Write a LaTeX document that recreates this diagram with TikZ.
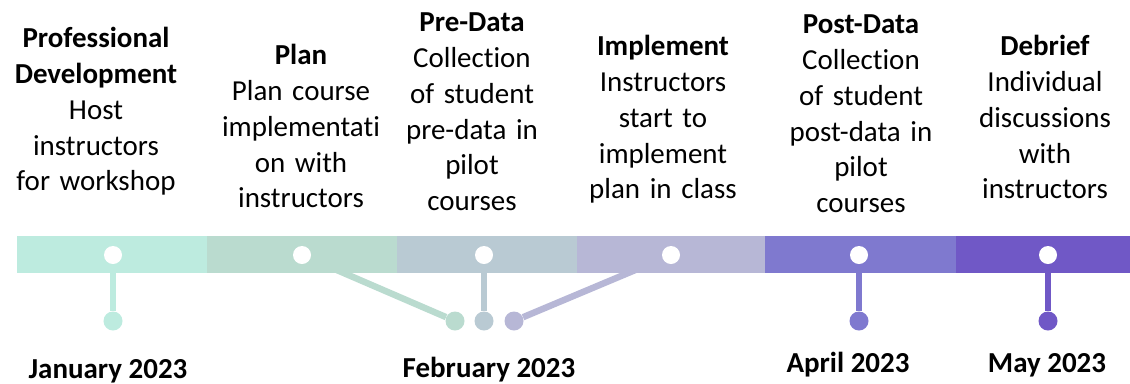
\documentclass[tikz,border=0pt]{standalone}
\usepackage{fontspec}
\setmainfont{Carlito}[Ligatures=NoCommon]
\usetikzlibrary{positioning}
\usetikzlibrary{backgrounds}

\definecolor{segA}{HTML}{BDEBDF}
\definecolor{segB}{HTML}{BADBCF}
\definecolor{segC}{HTML}{B9CAD3}
\definecolor{segD}{HTML}{B7B7D6}
\definecolor{segE}{HTML}{7F79CF}
\definecolor{segF}{HTML}{7058C6}

\begin{document}
\begin{tikzpicture}[x=0.025cm,y=-0.025cm,
	segment/.style={rectangle,inner sep=0pt,minimum height=0.925cm,anchor=west},
	dot/.style={circle,fill=white,inner sep=0pt,minimum size=0.45cm},
	pin/.style={circle,inner sep=0pt,minimum size=0.475cm},
	stem/.style={line width=4.6pt},
	phase/.style={text width=4.5cm,align=center,anchor=base,inner sep=0pt,font=\fontsize{20.6}{25.6}\selectfont},
	month/.style={anchor=base,inner sep=0pt,font=\fontsize{20.6}{25.6}\selectfont\bfseries}]

		\useasboundingbox (0,0) rectangle (1130,383);

		% the bar
		\node (segA) [segment,fill=segA,minimum width=4.75cm] at (17,254.5) {};
		\node (segB) [segment,fill=segB,minimum width=4.75cm,right=-0.4pt of segA] {};
		\node (segC) [segment,fill=segC,minimum width=4.5cm,right=-0.4pt of segB] {};
		\node (segD) [segment,fill=segD,minimum width=4.7cm,right=-0.4pt of segC] {};
		\node (segE) [segment,fill=segE,minimum width=4.75cm,right=-0.4pt of segD] {};
		\node (segF) [segment,fill=segF,minimum width=4.5cm,right=-0.4pt of segE] {};

		% dots on the bar
		\node (dotA) [dot] at (113,255) {};
		\node (dotB) [dot] at (302,255) {};
		\node (dotC) [dot] at (484,255) {};
		\node (dotD) [dot] at (671,255) {};
		\node (dotE) [dot] at (859,255) {};
		\node (dotF) [dot] at (1048,255) {};

		% pins below the bar
		\node (pinA) [pin,fill=segA] at (113,321) {};
		\node (pinB) [pin,fill=segB] at (455,321) {};
		\node (pinC) [pin,fill=segC] at (484,321) {};
		\node (pinD) [pin,fill=segD] at (514,321) {};
		\node (pinE) [pin,fill=segE] at (859,321) {};
		\node (pinF) [pin,fill=segF] at (1048,321) {};

		\begin{pgfonlayer}{background}
		\draw [stem,segA] (dotA.center) -- (pinA);
		\draw [stem,segB] (dotB.center) -- (pinB);
		\draw [stem,segC] (dotC.center) -- (pinC);
		\draw [stem,segD] (dotD.center) -- (pinD);
		\draw [stem,segE] (dotE.center) -- (pinE);
		\draw [stem,segF] (dotF.center) -- (pinF);
		\end{pgfonlayer}

		% phases
		\node (profdev) [phase] at (96,47) {\textbf{Professional}\\\textbf{Development}\\Host\\instructors\\for workshop};
		\node (plan) [phase] at (301,64) {\textbf{Plan}\\Plan course\\implementati\\on with\\instructors};
		\node (predata) [phase] at (472,31) {\textbf{Pre-Data}\\Collection\\of student\\pre-data in\\pilot\\courses};
		\node (implement) [phase] at (663,55) {\textbf{Implement}\\Instructors\\start to\\implement\\plan in class};
		\node (postdata) [phase] at (861,33) {\textbf{Post-Data}\\Collection\\of student\\post-data in\\pilot\\courses};
		\node (debrief) [phase] at (1045,55) {\textbf{Debrief}\\Individual\\discussions\\with\\instructors};

		% months
		\node (jan) [month] at (108,378) {January 2023};
		\node (feb) [month] at (489,377) {February 2023};
		\node (apr) [month] at (848,372) {April 2023};
		\node (may) [month] at (1047,372) {May 2023};
	\end{tikzpicture}
\end{document}
